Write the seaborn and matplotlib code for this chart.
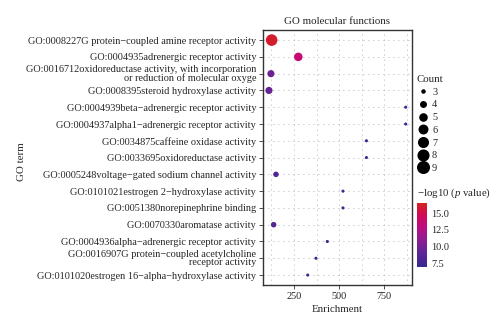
import numpy as np
import pandas as pd
import matplotlib
matplotlib.use("Agg")
import matplotlib.pyplot as plt
import seaborn as sns
from matplotlib.colors import LinearSegmentedColormap, Normalize
from matplotlib.lines import Line2D
from matplotlib.cm import ScalarMappable

sns.set_theme(style="white")
plt.rcParams['font.family'] = ['Liberation Serif', 'DejaVu Serif']
plt.rcParams['mathtext.fontset'] = 'custom'
plt.rcParams['mathtext.rm'] = 'Liberation Serif'
plt.rcParams['mathtext.it'] = 'Liberation Serif:italic'

terms = [
    "GO:0008227G protein\u2212coupled amine receptor activity",
    "GO:0004935adrenergic receptor activity",
    "GO:0016712oxidoreductase activity, with incorporation\nor reduction of molecular oxyge",
    "GO:0008395steroid hydroxylase activity",
    "GO:0004939beta\u2212adrenergic receptor activity",
    "GO:0004937alpha1\u2212adrenergic receptor activity",
    "GO:0034875caffeine oxidase activity",
    "GO:0033695oxidoreductase activity",
    "GO:0005248voltage\u2212gated sodium channel activity",
    "GO:0101021estrogen 2\u2212hydroxylase activity",
    "GO:0051380norepinephrine binding",
    "GO:0070330aromatase activity",
    "GO:0004936alpha\u2212adrenergic receptor activity",
    "GO:0016907G protein\u2212coupled acetylcholine\nreceptor activity",
    "GO:0101020estrogen 16\u2212alpha\u2212hydroxylase activity",
]
enrichment = [126, 274, 122, 111, 870, 870, 652, 652, 150, 522, 522, 137, 435, 372, 326]
counts = [9, 6, 5, 5, 3, 3, 3, 3, 4, 3, 3, 4, 3, 3, 3]
neglogp = [16.0, 13.6, 9.6, 9.4, 7.2, 7.2, 7.3, 7.3, 8.4, 7.3, 7.3, 8.5, 7.2, 7.2, 7.3]

legend_counts = [3, 4, 5, 6, 7, 8, 9]
cbar_ticks = [7.5, 10.0, 12.5, 15.0]

df = pd.DataFrame({"Term": terms, "Enrichment": enrichment,
                   "Count": counts, "logp": neglogp})

cmap = LinearSegmentedColormap.from_list(
    "gp", [(0.0, "#35288E"), (0.22, "#5E2596"), (0.42, "#8C1E90"),
           (0.63, "#BE0C80"), (0.80, "#D0085A"), (1.0, "#D4231F")])
vmin, vmax = 6.9, 16.5
norm = Normalize(vmin, vmax)
smin, smax = 5, 70

fig = plt.figure(figsize=(5, 3.3), dpi=100)
ax = fig.add_axes([0.526, 0.136, 0.298, 0.773])

sns.scatterplot(data=df, x="Enrichment", y="Term", size="Count", hue="logp",
                palette=cmap, hue_norm=norm, sizes=(smin, smax),
                size_norm=(3, 9), legend=False, ax=ax, linewidth=0, zorder=3)

ax.set_xlim(78, 905)
ax.set_ylim(len(terms) - 0.4, -0.6)
ax.set_xticks([250, 500, 750])
ax.set_xticklabels(["250", "500", "750"])
ax.set_xticks([125, 375, 625, 875], minor=True)
ax.grid(which="major", axis="both", linestyle=(0, (1, 5)), color="#9a9a9a", linewidth=0.6)
ax.grid(which="minor", axis="x", linestyle=(0, (1, 5)), color="#9a9a9a", linewidth=0.6)
ax.tick_params(axis="both", which="major", labelsize=7.4, length=3, width=0.6,
               color="#333333", pad=2, bottom=True, left=True)
ax.tick_params(axis="x", which="minor", length=0)
for lab in ax.get_yticklabels():
    lab.set_multialignment("right")
    lab.set_linespacing(0.85)
for s in ax.spines.values():
    s.set_color("#333333")
    s.set_linewidth(1.0)
ax.set_xlabel("Enrichment", fontsize=7.8, labelpad=3)
ax.set_ylabel("")
ax.set_title("GO molecular functions", fontsize=7.8, pad=4)
fig.text(0.044, 0.51, "GO term", rotation=90, fontsize=7.8, ha="center", va="center")

# size legend
handles = []
for c in legend_counts:
    s = smin + (c - 3) / (9 - 3) * (smax - smin)
    handles.append(Line2D([], [], marker="o", linestyle="", color="black",
                          markersize=np.sqrt(s), label=str(c)))
leg = fig.legend(handles=handles, title="Count", loc="upper left",
                 bbox_to_anchor=(0.825, 0.785), frameon=False, fontsize=7.4,
                 title_fontsize=7.8, handletextpad=0.3, labelspacing=0.34,
                 borderaxespad=0, handlelength=1.2)
leg._legend_box.align = "left"

# colorbar
cax = fig.add_axes([0.834, 0.19, 0.02, 0.195])
sm = ScalarMappable(norm=norm, cmap=cmap)
cb = fig.colorbar(sm, cax=cax, ticks=cbar_ticks)
cb.outline.set_visible(False)
cb.ax.set_yticklabels(["7.5", "10.0", "12.5", "15.0"])
cb.ax.tick_params(direction="in", color="white", length=2, width=0.8,
                  left=True, right=True, labelsize=7.4, pad=3)
fig.text(0.834, 0.395, "\u2212log10 ($\\it{p}$ value)", fontsize=7.8, ha="left", va="bottom")

fig.savefig("out.png", dpi=100)
